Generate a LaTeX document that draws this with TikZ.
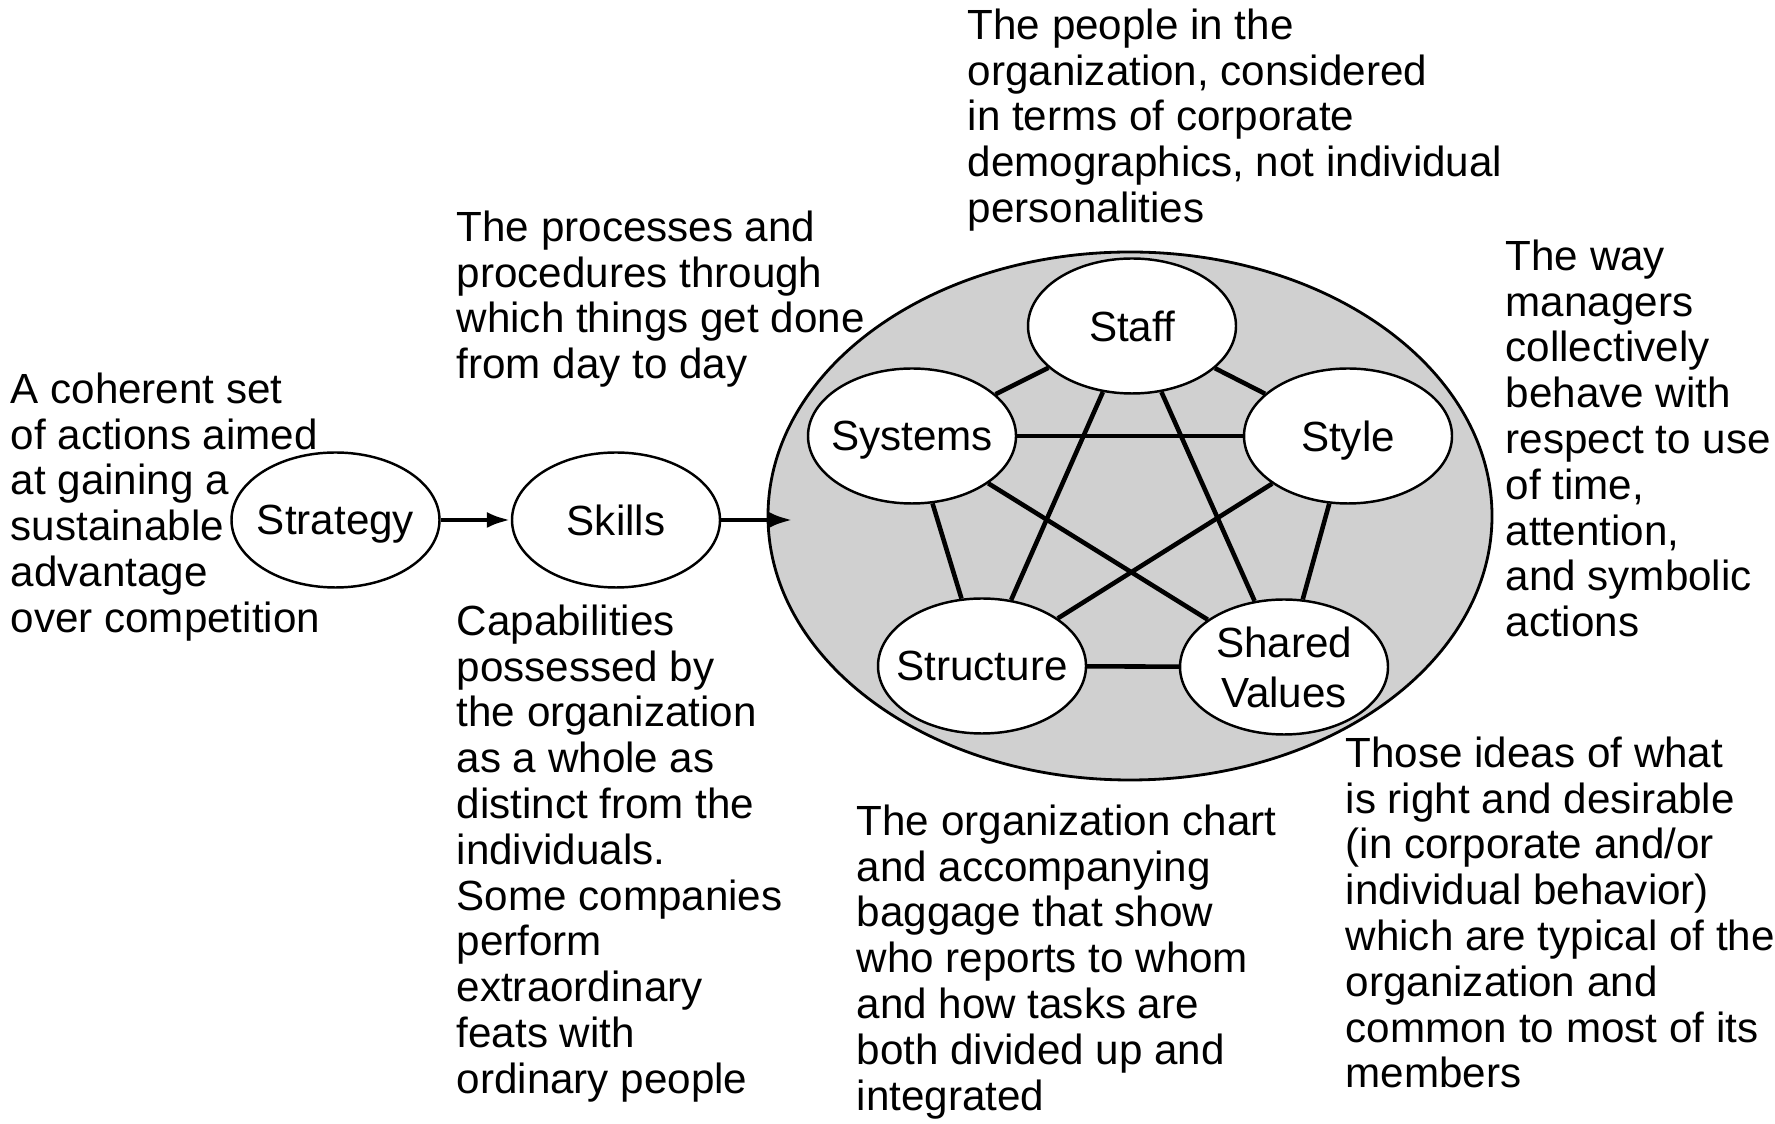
\documentclass[tikz,border=0pt]{standalone}
\usepackage{fontspec}
\setmainfont{Liberation Sans}
\usetikzlibrary{arrows.meta, shapes.geometric}
\definecolor{coregray}{gray}{0.815}

\begin{document}
\begin{tikzpicture}[
  every node/.style={font=\fontsize{12}{13.03}\selectfont},
  elem/.style={draw, ellipse, fill=white, line width=0.7pt, inner xsep=-4pt,
    inner ysep=0pt, text depth=0pt, minimum width=2.08cm, minimum height=1.35cm,
    align=center},
  desc/.style={anchor=north west, inner sep=0pt, align=left},
  link/.style={line width=1.3pt},
  flow/.style={line width=1.4pt, -{Latex[length=2.4mm, width=1.6mm]}}
]
  \useasboundingbox (0,0) rectangle (17.75,-11.24);

  % Core ellipse
  \node[draw, ellipse, fill=coregray, line width=0.8pt, inner sep=0pt,
    minimum width=7.24cm, minimum height=5.28cm] (core) at (11.30,-5.16) {};

  % Elements
  \node[elem] (strategy) at (3.355,-5.20) {Strategy};
  \node[elem] (skills) at (6.16,-5.20) {Skills};
  \node[elem] (staff) at (11.32,-3.26) {Staff};
  \node[elem] (systems) at (9.12,-4.36) {Systems};
  \node[elem] (style) at (13.48,-4.36) {Style};
  \node[elem] (structure) at (9.82,-6.66) {Structure};
  \node[elem] (shared) at (12.84,-6.67) {Shared\\[1.2pt]Values};

  % Links between the elements
  \foreach \a/\b in {staff/systems, staff/style, systems/style,
      systems/structure, style/shared, structure/shared,
      staff/structure, staff/shared, systems/shared, style/structure}
    \draw[link] (\a) -- (\b);

  % Arrows
  \coordinate (coreIn) at (7.93,-5.20);
  \draw[flow] (strategy) -- (skills);
  \draw[flow] (skills) -- (coreIn);

  % Descriptions
  \node[desc] (strategyText) at (0.10,-3.72) {A coherent set\\of actions aimed\\at gaining a\\sustainable\\advantage\\over competition};
  \node[desc] (systemsText) at (4.56,-2.10) {The processes and\\procedures through\\which things get done\\from day to day};
  \node[desc] (skillsText) at (4.56,-6.04) {Capabilities\\possessed by\\the organization\\as a whole as\\distinct from the\\individuals.\\Some companies\\perform\\extraordinary\\feats with\\ordinary people};
  \node[desc] (staffText) at (9.67,-0.08) {The people in the\\organization, considered\\in terms of corporate\\demographics, not individual\\personalities};
  \node[desc] (styleText) at (15.05,-2.39) {The way\\managers\\collectively\\behave with\\respect to use\\of time,\\attention,\\and symbolic\\actions};
  \node[desc] (structureText) at (8.56,-8.04) {The organization chart\\and accompanying\\baggage that show\\who reports to whom\\and how tasks are\\both divided up and\\integrated};
  \node[desc] (sharedText) at (13.45,-7.36) {Those ideas of what\\is right and desirable\\(in corporate and/or\\individual behavior)\\which are typical of the\\organization and\\common to most of its\\members};
\end{tikzpicture}
\end{document}
